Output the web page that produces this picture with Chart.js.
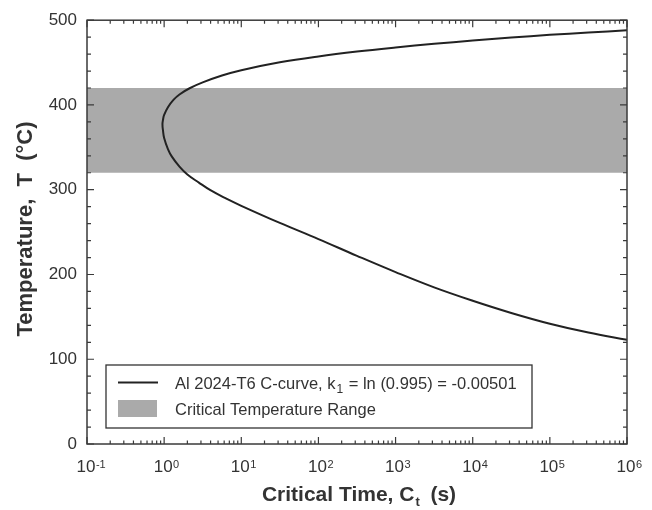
<!DOCTYPE html>
<html>
<head>
<meta charset="utf-8">
<script src="https://cdn.jsdelivr.net/npm/chart.js@4.4.0/dist/chart.umd.min.js"></script>
<style>
  html, body { margin: 0; padding: 0; background: #fff; }
  #wrap { width: 652px; height: 510px; }
</style>
</head>
<body>
<div id="wrap"><canvas id="chart"></canvas></div>
<script>
// C-curve: upper branch from long times down to the nose, then the lower branch
const curveTimes = [1000000, 316000, 100000, 31600, 10000, 3160, 1000, 316, 100, 31.6, 10, 5.62, 3.16, 2.14,
                    1.58, 1.32, 1.12, 1.0, 0.966, 0.951,
                    0.966, 1.0, 1.12, 1.26, 1.58, 2.0, 2.82, 3.98, 6.31, 10, 31.6, 100, 316, 1000, 3160,
                    10000, 31600, 100000, 316000, 1000000];
const curveTemps = [488, 485.5, 482.7, 479.5, 476, 472.1, 467.8, 463, 457.3, 450.3, 441, 434.7, 426.6, 419.7,
                    412.4, 406, 397.4, 388.3, 382.4, 377,
                    370, 361, 348, 339, 327.3, 318, 308.4, 299.4, 289.7, 281, 260.8, 241.8, 222, 202.8, 184.8,
                    169, 154.6, 141.9, 131.5, 123];

// Critical temperature range (shaded band)
const rangeTimes = [0.1, 1000000];
const rangeLow = 320;
const rangeHigh = 420;

// Axis ticks
const yTickValues = [0, 100, 200, 300, 400, 500];
const xTickExponents = [-1, 0, 1, 2, 3, 4, 5, 6];

const legendLabels = ['Al 2024-T6 C-curve, k', 'Critical Temperature Range'];

const FONT = '"Liberation Sans", Arial, Helvetica, sans-serif';
const TEXT = '#333';
const BAND = '#aaaaaa';

// Frame, inward ticks, x labels, axis titles and the boxed legend
const framePlugin = {
    id: 'frame',
    afterDraw(chart) {
        const { ctx, chartArea: a, scales: { x, y } } = chart;
        ctx.save();
        ctx.strokeStyle = '#3a3a3a';
        ctx.lineWidth = 1.5;
        ctx.strokeRect(a.left, a.top, a.right - a.left, a.bottom - a.top);

        // y ticks on both sides, minor every 20
        ctx.lineWidth = 1.2;
        ctx.beginPath();
        for (let v = yTickValues[0]; v <= yTickValues[yTickValues.length - 1]; v += 20) {
            const py = y.getPixelForValue(v);
            const len = v % 100 === 0 ? 7 : 4;
            ctx.moveTo(a.left, py); ctx.lineTo(a.left + len, py);
            ctx.moveTo(a.right, py); ctx.lineTo(a.right - len, py);
        }
        // x ticks top and bottom, minor 2..9 per decade
        xTickExponents.forEach(function (e) {
            for (let m = 1; m <= 9; m++) {
                if (e === xTickExponents[xTickExponents.length - 1] && m > 1) break;
                const px = x.getPixelForValue(m * Math.pow(10, e));
                const len = m === 1 ? 7 : 3.5;
                ctx.moveTo(px, a.bottom); ctx.lineTo(px, a.bottom - len);
                ctx.moveTo(px, a.top); ctx.lineTo(px, a.top + len);
            }
        });
        ctx.stroke();

        // x tick labels 10^n ("10" centred on the tick, exponent hanging right)
        ctx.fillStyle = TEXT;
        ctx.textBaseline = 'alphabetic';
        ctx.textAlign = 'left';
        xTickExponents.forEach(function (e) {
            const px = x.getPixelForValue(Math.pow(10, e));
            ctx.font = '17px ' + FONT;
            const wb = ctx.measureText('10').width;
            const x0 = px - wb / 2 - 1;
            ctx.fillText('10', x0, a.bottom + 28);
            ctx.font = '11px ' + FONT;
            const exp = e < 0 ? '-' + Math.abs(e) : String(e);
            ctx.fillText(exp, x0 + wb + 0.5, a.bottom + 24);
        });

        // x axis title with subscript t
        ctx.font = 'bold 21px ' + FONT;
        const t1 = 'Critical Time, C';
        const t2 = '  (s)';
        const w1 = ctx.measureText(t1).width;
        const w2 = ctx.measureText(t2).width;
        ctx.font = 'bold 13px ' + FONT;
        const ws = ctx.measureText('t').width;
        const tx = (a.left + a.right) / 2 - (w1 + ws + w2) / 2 + 2;
        const ty = a.bottom + 57;
        ctx.font = 'bold 21px ' + FONT;
        ctx.fillText(t1, tx, ty);
        ctx.fillText(t2, tx + w1 + ws, ty);
        ctx.font = 'bold 13px ' + FONT;
        ctx.fillText('t', tx + w1 + 1, ty + 5);

        // y axis title
        ctx.save();
        ctx.translate(32, 229);
        ctx.rotate(-Math.PI / 2);
        ctx.font = 'bold 22px ' + FONT;
        ctx.textAlign = 'center';
        ctx.fillText('Temperature,  T  (\u00B0C)', 0, 0);
        ctx.restore();

        // legend box
        const lx = 106, ly = 365, lw = 426, lh = 63;
        ctx.fillStyle = '#fff';
        ctx.fillRect(lx, ly, lw, lh);
        ctx.strokeStyle = '#333';
        ctx.lineWidth = 1.3;
        ctx.strokeRect(lx, ly, lw, lh);

        ctx.strokeStyle = '#222';
        ctx.lineWidth = 2;
        ctx.beginPath();
        ctx.moveTo(118, 382.5); ctx.lineTo(158, 382.5);
        ctx.stroke();
        ctx.fillStyle = BAND;
        ctx.fillRect(118, 400, 39, 17);

        ctx.fillStyle = TEXT;
        ctx.font = '16.5px ' + FONT;
        ctx.fillText(legendLabels[0], 175, 389);
        const wk = ctx.measureText(legendLabels[0]).width;
        ctx.font = '12px ' + FONT;
        ctx.fillText('1', 175 + wk + 1, 393);
        const w1s = ctx.measureText('1').width;
        ctx.font = '16.5px ' + FONT;
        ctx.fillText(' = ln (0.995) = -0.00501', 175 + wk + w1s + 2, 389);
        ctx.fillText(legendLabels[1], 175, 415);

        ctx.restore();
    }
};

const ctx = document.getElementById('chart').getContext('2d');
const chart = new Chart(ctx, {
    type: 'line',
    data: {
        datasets: [
            {
                label: legendLabels[0],
                data: curveTimes.map(function (t, i) { return { x: t, y: curveTemps[i] }; }),
                borderColor: '#222',
                borderWidth: 2,
                pointRadius: 0,
                tension: 0.4,
                fill: false,
                order: 1
            },
            {
                label: legendLabels[1],
                data: rangeTimes.map(function (t) { return { x: t, y: rangeHigh }; }),
                borderWidth: 0,
                borderColor: 'rgba(0,0,0,0)',
                backgroundColor: BAND,
                pointRadius: 0,
                fill: { value: rangeLow },
                order: 2
            }
        ]
    },
    options: {
        responsive: true,
        maintainAspectRatio: false,
        animation: false,
        layout: { padding: { left: 0, right: 25, top: 16, bottom: 0 } },
        plugins: {
            legend: { display: false },
            tooltip: { enabled: false }
        },
        scales: {
            x: {
                type: 'logarithmic',
                min: rangeTimes[0],
                max: rangeTimes[1],
                grid: { display: false, drawTicks: false },
                border: { display: false },
                ticks: { display: false },
                afterFit: function (scale) { scale.height = 66; }
            },
            y: {
                min: yTickValues[0],
                max: yTickValues[yTickValues.length - 1],
                grid: { display: false, drawTicks: false },
                border: { display: false },
                ticks: {
                    stepSize: 100,
                    padding: 10,
                    color: TEXT,
                    font: { size: 17, family: FONT }
                },
                afterFit: function (scale) { scale.width = 87; }
            }
        }
    },
    plugins: [framePlugin]
});
</script>
</body>
</html>
